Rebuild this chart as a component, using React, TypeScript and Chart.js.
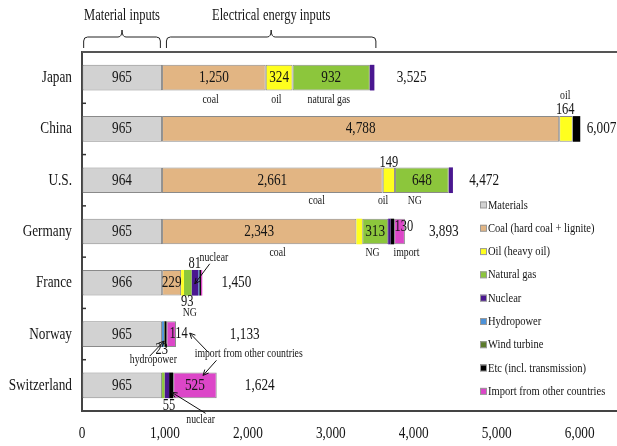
import React, { useEffect, useRef } from "react";
import { Chart, registerables } from "chart.js";

Chart.register(...registerables);

// ---------- data ----------
const categories = ["Japan", "China", "U.S.", "Germany", "France", "Norway", "Switzerland"];
const materials = [965, 965, 964, 965, 966, 965, 965];
const coal = [1250, 4788, 2661, 2343, 229, 0, 0];
const oil = [324, 164, 149, 70, 33, 0, 0];
const naturalGas = [932, 0, 648, 313, 93, 0, 30];
const nuclear = [54, 0, 50, 28, 81, 0, 55];
const hydropower = [0, 0, 0, 0, 12, 23, 0];
const windTurbine = [0, 0, 0, 0, 0, 6, 0];
const etcTransmission = [0, 90, 0, 44, 20, 25, 49];
const importOther = [0, 0, 0, 130, 16, 114, 525];
const totals = [3525, 6007, 4472, 3893, 1450, 1133, 1624];
// x (value units) where each total label starts
const totalLabelX = [3794, 6084, 4668, 4182, 1682, 1782, 1963];
const xTickValues = [0, 1000, 2000, 3000, 4000, 5000, 6000];

const seriesLabels = [
  "Materials",
  "Coal (hard coal + lignite)",
  "Oil (heavy oil)",
  "Natural gas",
  "Nuclear",
  "Hydropower",
  "Wind turbine",
  "Etc (incl. transmission)",
  "Import from other countries",
];
const seriesColors = ["#d2d2d2", "#e2b583", "#ffff1e", "#8cc63c", "#4a1790", "#4d92d8", "#5b7b2b", "#000000", "#dc46c8"];

// annotation words: [text, categoryIndex, xValue, dyPx]
const wordNotes: [string, number, number, number][] = [
  ["coal", 0, 1550, 22],
  ["oil", 0, 2344, 22],
  ["natural gas", 0, 2976, 22],
  ["oil", 1, 5826, -33],
  ["coal", 2, 2830, 21],
  ["oil", 2, 3630, 21],
  ["NG", 2, 4013, 21],
  ["coal", 3, 2358, 21],
  ["NG", 3, 3503, 21],
  ["import", 3, 3913, 21],
  ["nuclear", 4, 1590, -25],
  ["NG", 4, 1300, 30],
  ["hydropower", 5, 860, 26],
  ["import from other countries", 5, 2010, 20],
  ["nuclear", 6, 1430, 34],
];
// small value notes: [text, categoryIndex, xValue, dyPx]
const numberNotes: [string, number, number, number][] = [
  ["164", 1, 5826, -19],
  ["149", 2, 3700, -17],
  ["130", 3, 3880, -5],
  ["81", 4, 1360, -19],
  ["93", 4, 1270, 19],
  ["114", 5, 1166, 0],
  ["23", 5, 960, 16],
  ["55", 6, 1048, 20],
];
// arrows: [cat, x1, dy1, x2, dy2] (arrowhead at the second point)
const arrowNotes: [number, number, number, number, number][] = [
  [4, 1540, -19, 1360, 1],
  [5, 1520, 18, 1299, -1],
  [6, 1621, -25, 1460, -10],
  [5, 817, 22, 990, 7],
  [6, 1490, 28, 1082, 7],
];
// braces: [text, fromValue, toValue]
const braceNotes: [string, number, number][] = [
  ["Material inputs", 20, 945],
  ["Electrical energy inputs", 1018, 3543],
];

const SX = 0.78;
const FONT = '"Liberation Serif", "Times New Roman", serif';

function txt(ctx: CanvasRenderingContext2D, s: string, x: number, y: number, size: number, align: CanvasTextAlign = "center", color = "#151515") {
  ctx.save();
  ctx.font = `${size}px ${FONT}`;
  ctx.textAlign = align;
  ctx.textBaseline = "middle";
  ctx.fillStyle = color;
  ctx.translate(x, y);
  ctx.scale(SX, 1);
  ctx.fillText(s, 0, 0);
  ctx.restore();
}

function arrow(ctx: CanvasRenderingContext2D, x1: number, y1: number, x2: number, y2: number) {
  ctx.save();
  ctx.strokeStyle = "#111";
  ctx.lineWidth = 1;
  ctx.beginPath();
  ctx.moveTo(x1, y1);
  ctx.lineTo(x2, y2);
  ctx.stroke();
  const a = Math.atan2(y2 - y1, x2 - x1);
  const L = 6;
  ctx.beginPath();
  ctx.moveTo(x2 - L * Math.cos(a - 0.45), y2 - L * Math.sin(a - 0.45));
  ctx.lineTo(x2, y2);
  ctx.lineTo(x2 - L * Math.cos(a + 0.45), y2 - L * Math.sin(a + 0.45));
  ctx.stroke();
  ctx.restore();
}

function brace(ctx: CanvasRenderingContext2D, x1: number, x2: number, yLine: number, yLeg: number, yPeak: number) {
  const r = 4;
  const mid = (x1 + x2) / 2;
  ctx.save();
  ctx.strokeStyle = "#222";
  ctx.lineWidth = 1;
  ctx.beginPath();
  ctx.moveTo(x1, yLeg);
  ctx.lineTo(x1, yLine + r);
  ctx.quadraticCurveTo(x1, yLine, x1 + r, yLine);
  ctx.lineTo(mid - r, yLine);
  ctx.quadraticCurveTo(mid, yLine, mid, yPeak);
  ctx.quadraticCurveTo(mid, yLine, mid + r, yLine);
  ctx.lineTo(x2 - r, yLine);
  ctx.quadraticCurveTo(x2, yLine, x2, yLine + r);
  ctx.lineTo(x2, yLeg);
  ctx.stroke();
  ctx.restore();
}

const fmt = (v: number) => v.toLocaleString("en-US");

const annotationPlugin = {
  id: "annotations",
  afterDatasetsDraw(chart: any) {
    const ctx: CanvasRenderingContext2D = chart.ctx;
    const xs = chart.scales.x;
    const ys = chart.scales.y;
    const area = chart.chartArea;
    const X = (v: number) => xs.getPixelForValue(v);
    const Y = (i: number) => ys.getPixelForValue(i);

    // top border
    ctx.save();
    ctx.strokeStyle = "#555";
    ctx.lineWidth = 2;
    ctx.beginPath();
    ctx.moveTo(area.left, area.top);
    ctx.lineTo(area.right, area.top);
    ctx.stroke();
    // small inner ticks between categories
    ctx.lineWidth = 1.5;
    ctx.strokeStyle = "#333";
    for (let i = 0; i < categories.length - 1; i++) {
      const y = (Y(i) + Y(i + 1)) / 2;
      ctx.beginPath();
      ctx.moveTo(area.left, y);
      ctx.lineTo(area.left + 4, y);
      ctx.stroke();
    }
    ctx.restore();

    // category labels
    categories.forEach((c, i) => txt(ctx, c, area.left - 10, Y(i), 17, "right"));
    // x tick labels
    xTickValues.forEach((v) => txt(ctx, fmt(v), X(v), area.bottom + 23, 17));

    // in-bar values
    chart.data.datasets.forEach((ds: any, di: number) => {
      ds.data.forEach((v: number, i: number) => {
        if (v >= 200) {
          let start = 0;
          for (let k = 0; k < di; k++) start += chart.data.datasets[k].data[i];
          txt(ctx, fmt(v), X(start + v / 2), Y(i), 17);
        }
      });
    });

    // totals
    totals.forEach((t, i) => txt(ctx, fmt(t), X(totalLabelX[i]), Y(i), 17, "left"));

    // notes
    wordNotes.forEach(([s, c, v, dy]) => txt(ctx, s, X(v), Y(c) + dy, 12.5));
    numberNotes.forEach(([s, c, v, dy]) => txt(ctx, s, X(v), Y(c) + dy, 16));
    arrowNotes.forEach(([c, v1, d1, v2, d2]) => arrow(ctx, X(v1), Y(c) + d1, X(v2), Y(c) + d2));

    // braces
    braceNotes.forEach(([s, a, b]) => {
      brace(ctx, X(a), X(b), 37, 48, 30);
      txt(ctx, s, (X(a) + X(b)) / 2, 16, 16);
    });

    // legend
    seriesLabels.forEach((s, i) => {
      const y = 205 + i * 23.3;
      ctx.save();
      ctx.fillStyle = seriesColors[i];
      ctx.fillRect(480, y - 3.5, 6.5, 6.5);
      ctx.strokeStyle = "#999";
      ctx.lineWidth = 1;
      ctx.strokeRect(480.5, y - 3, 6, 6);
      ctx.restore();
      txt(ctx, s, 488, y, 13.5, "left");
    });
  },
};

export default function App() {
  const ref = useRef<HTMLCanvasElement | null>(null);
  useEffect(() => {
    document.body.style.margin = "0";
    const seriesData = [materials, coal, oil, naturalGas, nuclear, hydropower, windTurbine, etcTransmission, importOther];
    const chart = new Chart(ref.current as HTMLCanvasElement, {
      type: "bar",
      data: {
        labels: categories,
        datasets: seriesData.map((d, i) => ({
          label: seriesLabels[i],
          data: d,
          backgroundColor: seriesColors[i],
          borderColor: "#8a8a8a",
          borderWidth: (c: any) => (c.raw > 100 ? 1 : 0),
          borderSkipped: false,
          barPercentage: 0.5,
          categoryPercentage: 1,
        })),
      },
      options: {
        indexAxis: "y",
        responsive: false,
        animation: false,
        devicePixelRatio: 1,
        layout: { padding: { left: 82, top: 52, right: 0, bottom: 35 } },
        plugins: { legend: { display: false }, tooltip: { enabled: false } },
        scales: {
          x: {
            stacked: true,
            min: 0,
            max: 6450,
            ticks: { display: false, stepSize: 500 },
            grid: {
              drawTicks: false,
              color: (c: any) => (c.tick && c.tick.value % 500 === 0 && c.tick.value > 0 ? "#dcdcdc" : "rgba(0,0,0,0)"),
            },
            border: { display: true, color: "#444", width: 2 },
          },
          y: {
            stacked: true,
            ticks: { display: false },
            grid: { display: false, drawTicks: false },
            border: { display: true, color: "#444", width: 2 },
          },
        },
      },
      plugins: [annotationPlugin],
    } as any);
    return () => chart.destroy();
  }, []);
  return <canvas ref={ref} width={617} height={446} style={{ display: "block" }} />;
}
